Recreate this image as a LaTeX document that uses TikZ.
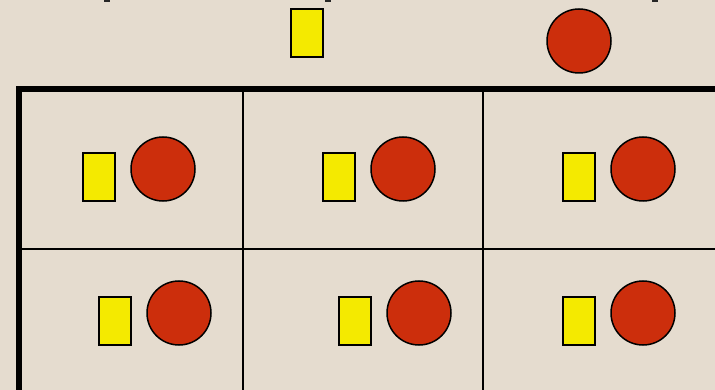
\documentclass[tikz,border=0pt]{standalone}
\definecolor{bgbeige}{HTML}{E5DCCF}
\definecolor{boxyellow}{HTML}{F4EA00}
\definecolor{ballred}{HTML}{CC2E0C}
\tikzset{
  ybox/.style={draw=black, line width=1.5pt, fill=boxyellow, rectangle, minimum width=32pt, minimum height=48pt, inner sep=0pt},
  rball/.style={draw=black, line width=1.5pt, fill=ballred, circle, minimum size=64pt, inner sep=0pt},
  thickrule/.style={line width=5.5pt, line cap=rect},
  thinrule/.style={line width=2pt},
  tick/.style={fill=black!85}
}
\begin{document}
\begin{tikzpicture}[x=1pt,y=-1pt]
\fill[bgbeige] (0,0) rectangle (715,390);
\useasboundingbox (0,0) rectangle (715,390);
\begin{scope}
\clip (0,0) rectangle (715,390);
% small marks at top edge
\fill[tick] (104,0) rectangle (110,2.5);
\fill[tick] (325,0) rectangle (331,2.5);
\fill[tick] (652,0) rectangle (658,2.5);
% top objects
\node[ybox] (topbox) at (307,33) {};
\node[rball] (topball) at (579,41) {};
% table rules
\draw[thinrule] (19,249) -- (720,249);
\draw[thinrule] (243,89) -- (243,395);
\draw[thinrule] (483,89) -- (483,395);
\draw[thickrule] (19,400) -- (19,89) -- (730,89);
% row 1
\node[ybox] (b11) at (99,177) {};
\node[rball] (c11) at (163,169) {};
\node[ybox] (b12) at (339,177) {};
\node[rball] (c12) at (403,169) {};
\node[ybox] (b13) at (579,177) {};
\node[rball] (c13) at (643,169) {};
% row 2
\node[ybox] (b21) at (115,321) {};
\node[rball] (c21) at (179,313) {};
\node[ybox] (b22) at (355,321) {};
\node[rball] (c22) at (419,313) {};
\node[ybox] (b23) at (579,321) {};
\node[rball] (c23) at (643,313) {};
\end{scope}
\end{tikzpicture}
\end{document}
